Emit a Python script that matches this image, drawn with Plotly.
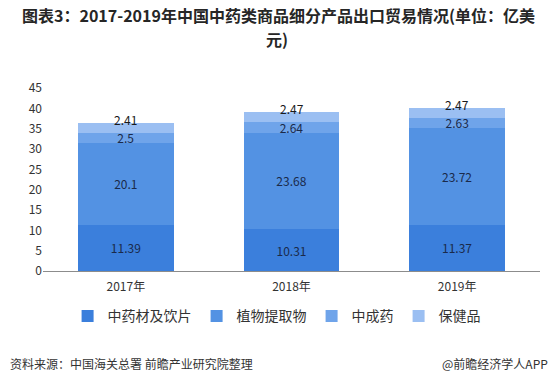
import plotly.graph_objects as go

years = ["2017年", "2018年", "2019年"]
series_names = ["中药材及饮片", "植物提取物", "中成药", "保健品"]
herbs = [11.39, 10.31, 11.37]
extracts = [20.1, 23.68, 23.72]
patent = [2.5, 2.64, 2.63]
health = [2.41, 2.47, 2.47]
y_ticks = [0, 5, 10, 15, 20, 25, 30, 35, 40, 45]

colors = ["#3b7fdc", "#5392e3", "#6fa4ea", "#9bbff2"]
font_family = "Noto Sans CJK SC, Microsoft YaHei, sans-serif"

fig = go.Figure()
all_series = [herbs, extracts, patent, health]
for i, (name, vals) in enumerate(zip(series_names, all_series)):
    is_top = i == len(all_series) - 1
    fig.add_trace(go.Bar(
        x=years, y=vals, name=name,
        marker=dict(color=colors[i], line=dict(width=0)),
        text=None if is_top else [str(v) for v in vals],
        textposition="inside", insidetextanchor="middle", textangle=0,
        textfont=dict(size=12, color="#1a2a4a", family=font_family),
        constraintext="none",
        hoverinfo="skip",
    ))

# top-series labels straddle the top edge of each bar
totals = [sum(s[k] for s in all_series) for k in range(len(years))]
for k, yr in enumerate(years):
    fig.add_annotation(x=yr, y=totals[k], text=str(health[k]), showarrow=False,
                       yanchor="middle", yshift=3,
                       font=dict(size=12, color="#1a1a1a", family=font_family))

# second (wrapped) line of the title
fig.add_annotation(xref="paper", yref="paper", x=0.47, y=1.27, text="<b>元)</b>",
                   showarrow=False, xanchor="center", yanchor="middle",
                   font=dict(size=16, color="#262626", family=font_family))

fig.add_annotation(xref="paper", yref="paper", x=-0.0704, y=-0.503, text="资料来源：中国海关总署 前瞻产业研究院整理",
                   showarrow=False, xanchor="left", yanchor="middle",
                   font=dict(size=12, color="#333333", family=font_family))
fig.add_annotation(xref="paper", yref="paper", x=1.02, y=-0.503, text="@前瞻经济学人APP",
                   showarrow=False, xanchor="right", yanchor="middle",
                   font=dict(size=12, color="#333333", family=font_family))

fig.update_layout(
    width=557, height=387,
    barmode="stack", bargap=0.424,
    paper_bgcolor="white", plot_bgcolor="white",
    margin=dict(l=43, r=17, t=88, b=116),
    title=dict(text="<b>图表3：2017-2019年中国中药类商品细分产品出口贸易情况(单位：亿美</b>",
               x=0.5, xanchor="center", y=0.972, yanchor="top",
               font=dict(size=16, color="#262626", family=font_family)),
    uniformtext=dict(mode="show", minsize=12),
    showlegend=True,
    legend=dict(orientation="h", x=0.47, xanchor="center", y=-0.16, yanchor="top",
                font=dict(size=14, color="#333333", family=font_family),
                traceorder="normal", itemwidth=30),
    font=dict(family=font_family),
)
fig.update_xaxes(showline=True, linecolor="#8c8c8c", linewidth=1, ticks="",
                 ticklabelstandoff=5,
                 tickfont=dict(size=12, color="#333333", family=font_family),
                 showgrid=False)
fig.update_yaxes(range=[0, 45], tickvals=y_ticks, showgrid=False, zeroline=False,
                 showline=False, ticks="",
                 tickfont=dict(size=12, color="#333333", family=font_family))

fig.write_html("out.html", config={"displayModeBar": False},
               post_script="document.body.style.margin='0';document.body.style.overflow='hidden';")
